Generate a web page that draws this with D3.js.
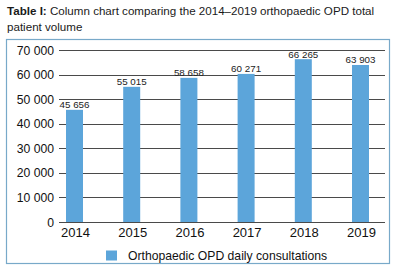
<!DOCTYPE html>
<html>
<head>
<meta charset="utf-8">
<script src="https://cdn.jsdelivr.net/npm/d3@7"></script>
<style>
  body { margin: 0; background: #fff; }
  svg { font-family: "Liberation Sans", Arial, sans-serif; }
</style>
</head>
<body>
<div id="chart"></div>
<script>
  // data
  const years = ["2014", "2015", "2016", "2017", "2018", "2019"];
  const consultations = [45656, 55015, 58658, 60271, 66265, 63903];
  const yTicks = [0, 10000, 20000, 30000, 40000, 50000, 60000, 70000];
  const seriesName = "Orthopaedic OPD daily consultations";

  const W = 397, H = 269;
  const barColor = "#5ca5da";
  const fmt = (v) => d3.format(",")(v).replace(/,/g, " ");

  const svg = d3.select("#chart").append("svg")
    .attr("width", W).attr("height", H);

  // title
  const title = svg.append("text").attr("x", 7).attr("y", 15)
    .attr("font-size", 11.6).attr("fill", "#1a1a1a");
  title.append("tspan").attr("font-weight", "bold").text("Table I:");
  title.append("tspan").text(" Column chart comparing the 2014\u20132019 orthopaedic OPD total");
  svg.append("text").attr("x", 7).attr("y", 30.5)
    .attr("font-size", 11.6).attr("fill", "#1a1a1a").text("patient volume");

  // frame
  svg.append("rect")
    .attr("x", 6.5).attr("y", 39.5).attr("width", 383).attr("height", 224)
    .attr("fill", "none").attr("stroke", "#78a9c9").attr("stroke-width", 1.2);

  const y = d3.scaleLinear().domain([0, 70000]).range([222, 50]);
  const x = d3.scalePoint().domain(years).range([74.5, 360.5]);
  const barW = 17;

  // gridlines
  svg.append("g").selectAll("line").data(yTicks).join("line")
    .attr("x1", 59).attr("x2", 385)
    .attr("y1", (d) => Math.round(y(d)) + 0.5)
    .attr("y2", (d) => Math.round(y(d)) + 0.5)
    .attr("stroke", "#4a4a4a").attr("stroke-width", 1);

  // y labels
  svg.append("g").selectAll("text").data(yTicks).join("text")
    .attr("x", 54).attr("y", (d) => y(d) + 4.5)
    .attr("text-anchor", "end").attr("font-size", 12.2).attr("fill", "#111")
    .text((d) => fmt(d));

  // bars
  svg.append("g").selectAll("rect").data(consultations).join("rect")
    .attr("x", (d, i) => x(years[i]) - barW / 2)
    .attr("y", (d) => y(d))
    .attr("width", barW)
    .attr("height", (d) => y(0) - y(d))
    .attr("fill", barColor);

  // redraw baseline on top of bars
  svg.append("line").attr("x1", 59).attr("x2", 385)
    .attr("y1", Math.round(y(0)) + 0.5).attr("y2", Math.round(y(0)) + 0.5)
    .attr("stroke", "#4a4a4a");

  // value labels
  svg.append("g").selectAll("text").data(consultations).join("text")
    .attr("x", (d, i) => x(years[i]))
    .attr("y", (d) => y(d) - 1.5)
    .attr("text-anchor", "middle").attr("font-size", 9.8).attr("fill", "#222")
    .text((d) => fmt(d));

  // x labels
  svg.append("g").selectAll("text").data(years).join("text")
    .attr("x", (d) => x(d) + 1)
    .attr("y", 237)
    .attr("text-anchor", "middle").attr("font-size", 13).attr("fill", "#111")
    .text((d) => d);

  // legend
  svg.append("rect").attr("x", 106).attr("y", 250.5).attr("width", 11).attr("height", 10)
    .attr("fill", barColor);
  svg.append("text").attr("x", 128).attr("y", 259.5)
    .attr("font-size", 12.2).attr("fill", "#111").text(seriesName);
</script>
</body>
</html>
